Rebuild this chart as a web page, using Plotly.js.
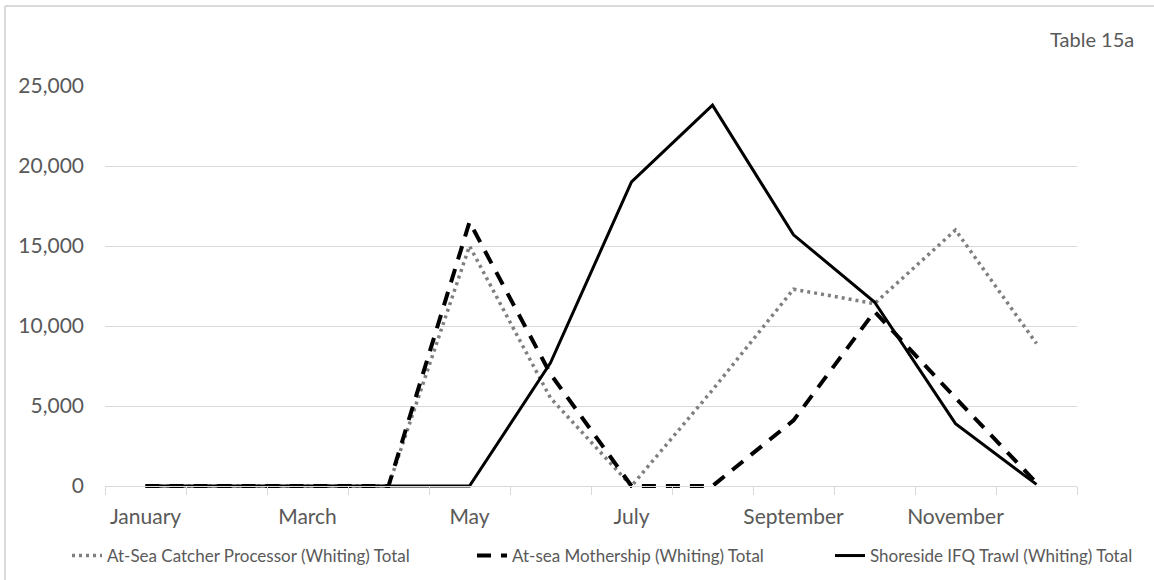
<!DOCTYPE html>
<html>
<head>
<meta charset="utf-8">
<script src="https://cdn.plot.ly/plotly-3.0.1.min.js"></script>
<style>
html,body{margin:0;padding:0;background:#fff;}
#chart{width:1154px;height:580px;}
</style>
</head>
<body>
<div id="chart"></div>
<script>
const months = ['January','February','March','April','May','June','July','August','September','October','November','December'];
const monthLabels = ['January','','March','','May','','July','','September','','November',''];
const catcherProcessor = [0,0,0,0,15000,5500,0,6000,12300,11400,16000,8900];
const mothership = [0,0,0,0,16500,7000,0,0,4100,10900,5500,200];
const shoreside = [0,0,0,0,0,7700,19000,23800,15700,11500,3900,100];
const seriesNames = ['At-Sea Catcher Processor (Whiting) Total','At-sea Mothership (Whiting) Total','Shoreside IFQ Trawl (Whiting) Total'];
const yTicks = [0,5000,10000,15000,20000,25000];
const yTickText = ['0','5,000','10,000','15,000','20,000','25,000'];

const font = 'Lato, "Open Sans", sans-serif';
const grey = '#595959';

// plot-area geometry (pixels)
const CW = 1154, CH = 580;
const L = 105, R = 1077, T = 86, B = 488;
const W = R - L, H = B - T;
const yMin = -125, yMax = 25000;
const px2x = p => (p - L) / W;
const px2y = p => (B - p) / H;
const cx = p => p / CW;
const cy = p => 1 - p / CH;

const traces = [
  {x: months, y: catcherProcessor, name: seriesNames[0], type: 'scatter', mode: 'lines', legend: 'legend',
   line: {color: '#7f7f7f', width: 3.5, dash: '3px,4px'}},
  {x: months, y: mothership, name: seriesNames[1], type: 'scatter', mode: 'lines', legend: 'legend2',
   line: {color: '#000000', width: 4, dash: '14px,10px'}},
  {x: months, y: shoreside, name: seriesNames[2], type: 'scatter', mode: 'lines', legend: 'legend3',
   line: {color: '#000000', width: 3}}
];

const legendBase = {orientation: 'h', xref: 'container', yref: 'container', xanchor: 'left', yanchor: 'middle', y: cy(556),
  font: {family: font, size: 17, color: grey}, bgcolor: 'rgba(0,0,0,0)', borderwidth: 0};

const layout = {
  width: CW, height: CH,
  margin: {l: L, r: CW - R, t: T, b: CH - B, autoexpand: false},
  paper_bgcolor: '#ffffff', plot_bgcolor: '#ffffff',
  font: {family: font, color: grey},
  showlegend: true,
  legend: Object.assign({}, legendBase, {x: cx(108 - 41)}),
  legend2: Object.assign({}, legendBase, {x: cx(513 - 41)}),
  legend3: Object.assign({}, legendBase, {x: cx(871 - 41)}),
  xaxis: {type: 'category', range: [-0.5, 11.5], tickmode: 'array', tickvals: months, ticktext: monthLabels,
          tickson: 'boundaries', ticks: 'outside', ticklen: 8, tickcolor: '#d9d9d9', tickwidth: 1,
          showline: true, linecolor: '#d9d9d9', linewidth: 1, showgrid: false, zeroline: false,
          anchor: 'free', position: (0 - yMin) / (yMax - yMin), tickangle: 0,
          tickfont: {family: font, size: 21, color: grey}, ticklabelstandoff: 12, fixedrange: true},
  yaxis: {range: [yMin, yMax], tickmode: 'array', tickvals: yTicks, ticktext: yTickText,
          showgrid: true, gridcolor: '#d9d9d9', gridwidth: 1, zeroline: false, showline: false,
          tickfont: {family: font, size: 21, color: grey}, ticklabelstandoff: 20, fixedrange: true},
  annotations: [
    {text: 'Table 15a', xref: 'paper', yref: 'paper', x: px2x(1092), y: px2y(39),
     xanchor: 'center', yanchor: 'middle', showarrow: false, font: {family: font, size: 20, color: grey}}
  ],
  shapes: [
    {type: 'line', xref: 'paper', yref: 'paper', x0: px2x(5), x1: px2x(5),
     y0: px2y(6), y1: px2y(600), line: {color: '#d9d9d9', width: 2}},
    {type: 'line', xref: 'paper', yref: 'paper', x0: px2x(5), x1: px2x(1170),
     y0: px2y(6), y1: px2y(6), line: {color: '#d9d9d9', width: 2}}
  ]
};

Plotly.newPlot('chart', traces, layout, {displayModeBar: false, staticPlot: true});
</script>
</body>
</html>
